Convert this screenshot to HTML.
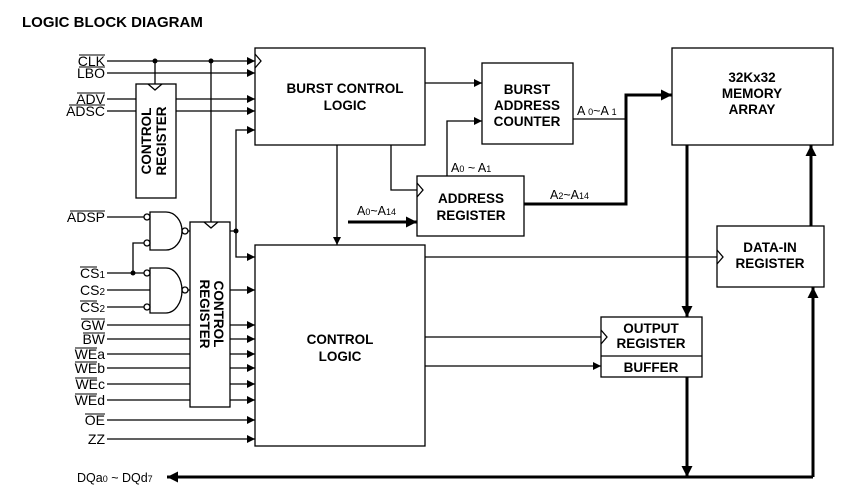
<!DOCTYPE html>
<html><head><meta charset="utf-8"><style>
html,body{margin:0;padding:0;background:#fff;}
svg{display:block;font-family:"Liberation Sans",Arial,sans-serif;}
.b{font-weight:bold;font-size:13.5px;text-anchor:middle;}
.l{font-size:14px;text-anchor:end;}
.s{font-size:12.5px;}
</style></head><body>
<svg width="846" height="491" viewBox="0 0 846 491" xmlns="http://www.w3.org/2000/svg">
<defs>
<marker id="a" viewBox="0 0 10 10" refX="10" refY="5" markerWidth="8" markerHeight="8" markerUnits="userSpaceOnUse" orient="auto"><path d="M0,0L10,5L0,10z" fill="#000"/></marker>
<marker id="A" viewBox="0 0 10 10" refX="10" refY="5" markerWidth="11" markerHeight="11" markerUnits="userSpaceOnUse" orient="auto"><path d="M0,0L10,5L0,10z" fill="#000"/></marker>
</defs>
<text x="22" y="27" font-size="15" font-weight="bold">LOGIC BLOCK DIAGRAM</text>
<g fill="none" stroke="#000" stroke-width="1.3">
<rect x="255" y="48" width="170" height="97"/>
<rect x="136" y="84" width="40" height="114"/>
<rect x="190" y="222" width="40" height="185"/>
<rect x="255" y="245" width="170" height="201"/>
<rect x="482" y="63" width="91" height="81"/>
<rect x="417" y="176" width="107" height="60"/>
<rect x="672" y="48" width="161" height="97"/>
<rect x="717" y="226" width="107" height="61"/>
<rect x="601" y="317" width="101" height="60"/>
<line x1="601" y1="356" x2="702" y2="356"/>
<path d="M255,54L261,61L255,68"/>
<path d="M148,84L155,90L162,84"/>
<path d="M204,222L211,228L218,222"/>
<path d="M417,183L423,190L417,197"/>
<path d="M717,250L723,257L717,264"/>
<path d="M601,330L607,337L601,344"/>
<line x1="107" y1="61" x2="255" y2="61" marker-end="url(#a)"/>
<line x1="107" y1="73" x2="255" y2="73" marker-end="url(#a)"/>
<line x1="155" y1="61" x2="155" y2="84"/>
<line x1="211" y1="61" x2="211" y2="222"/>
<line x1="107" y1="99" x2="136" y2="99"/>
<line x1="107" y1="111" x2="136" y2="111"/>
<line x1="176" y1="99" x2="255" y2="99" marker-end="url(#a)"/>
<line x1="176" y1="111" x2="255" y2="111" marker-end="url(#a)"/>
<path d="M236,231V130H255" marker-end="url(#a)"/>
<path d="M230,231H236V257H255" marker-end="url(#a)"/>
<path d="M150,212H166A16,19 0 0 1 166,250H150Z"/>
<path d="M150,268H166A16,22.5 0 0 1 166,313H150Z"/>
<circle cx="147" cy="217" r="3"/><circle cx="147" cy="243" r="3"/>
<circle cx="185" cy="231" r="3"/>
<circle cx="147" cy="273" r="3"/><circle cx="147" cy="307" r="3"/>
<circle cx="185" cy="290" r="3"/>
<line x1="107" y1="217" x2="144" y2="217"/>
<line x1="188" y1="231" x2="190" y2="231"/>
<path d="M133,273V243H144"/>
<line x1="107" y1="273" x2="144" y2="273"/>
<line x1="107" y1="290" x2="150" y2="290"/>
<line x1="107" y1="307" x2="144" y2="307"/>
<line x1="188" y1="290" x2="190" y2="290"/>
<line x1="230" y1="290" x2="255" y2="290" marker-end="url(#a)"/>
<line x1="107" y1="325" x2="190" y2="325"/><line x1="230" y1="325" x2="255" y2="325" marker-end="url(#a)"/>
<line x1="107" y1="339" x2="190" y2="339"/><line x1="230" y1="339" x2="255" y2="339" marker-end="url(#a)"/>
<line x1="107" y1="354" x2="190" y2="354"/><line x1="230" y1="354" x2="255" y2="354" marker-end="url(#a)"/>
<line x1="107" y1="368" x2="190" y2="368"/><line x1="230" y1="368" x2="255" y2="368" marker-end="url(#a)"/>
<line x1="107" y1="384" x2="190" y2="384"/><line x1="230" y1="384" x2="255" y2="384" marker-end="url(#a)"/>
<line x1="107" y1="400" x2="190" y2="400"/><line x1="230" y1="400" x2="255" y2="400" marker-end="url(#a)"/>
<line x1="107" y1="420" x2="255" y2="420" marker-end="url(#a)"/>
<line x1="107" y1="439" x2="255" y2="439" marker-end="url(#a)"/>
<line x1="425" y1="83" x2="482" y2="83" marker-end="url(#a)"/>
<path d="M447,176V121H482" marker-end="url(#a)"/>
<path d="M391,145V190H417"/>
<line x1="337" y1="145" x2="337" y2="245" marker-end="url(#a)"/>
<line x1="573" y1="119" x2="626" y2="119"/>
<line x1="425" y1="257" x2="717" y2="257"/>
<line x1="425" y1="337" x2="601" y2="337"/>
<line x1="425" y1="366" x2="601" y2="366" marker-end="url(#a)"/>
</g>
<g fill="none" stroke="#000" stroke-width="3">
<line x1="348" y1="222" x2="417" y2="222" marker-end="url(#A)"/>
<path d="M524,204H626V95H672" marker-end="url(#A)"/>
<line x1="687" y1="145" x2="687" y2="317" marker-end="url(#A)"/>
<line x1="687" y1="377" x2="687" y2="477" marker-end="url(#A)"/>
<line x1="811" y1="226" x2="811" y2="145" marker-end="url(#A)"/>
<path d="M813,477V287" marker-end="url(#A)"/>
<line x1="813" y1="477" x2="167" y2="477" marker-end="url(#A)"/>
</g>
<g fill="#000">
<circle cx="155" cy="61" r="2.5"/><circle cx="211" cy="61" r="2.5"/>
<circle cx="236" cy="231" r="2.5"/><circle cx="133" cy="273" r="2.5"/>
</g>
<g class="l">
<text x="105" y="66">CLK</text><text x="105" y="78">LBO</text>
<text x="105" y="104">ADV</text><text x="105" y="116">ADSC</text>
<text x="105" y="222">ADSP</text>
<text x="105" y="278">CS<tspan font-size="10">1</tspan></text>
<text x="105" y="295">CS<tspan font-size="10">2</tspan></text>
<text x="105" y="312">CS<tspan font-size="10">2</tspan></text>
<text x="105" y="330">GW</text><text x="105" y="344">BW</text>
<text x="105" y="359">WEa</text><text x="105" y="373">WEb</text>
<text x="105" y="389">WEc</text><text x="105" y="405">WEd</text>
<text x="105" y="425">OE</text><text x="105" y="444">ZZ</text>
</g>
<g stroke="#000" stroke-width="1">
<line x1="79" y1="55" x2="105" y2="55"/><line x1="79" y1="67" x2="105" y2="67"/>
<line x1="77" y1="93" x2="105" y2="93"/><line x1="69" y1="105" x2="105" y2="105"/>
<line x1="70" y1="211" x2="105" y2="211"/><line x1="80" y1="267" x2="97" y2="267"/>
<line x1="80" y1="301" x2="97" y2="301"/><line x1="81" y1="319" x2="105" y2="319"/>
<line x1="83" y1="333" x2="105" y2="333"/><line x1="75" y1="348" x2="97" y2="348"/>
<line x1="75" y1="362" x2="97" y2="362"/><line x1="75" y1="378" x2="97" y2="378"/>
<line x1="75" y1="394" x2="97" y2="394"/><line x1="85" y1="414" x2="105" y2="414"/>
</g>
<text class="b" transform="translate(151,141) rotate(-90)">CONTROL</text>
<text class="b" transform="translate(166,141) rotate(-90)">REGISTER</text>
<text class="b" transform="translate(200,314) rotate(90)">REGISTER</text>
<text class="b" transform="translate(214,314) rotate(90)">CONTROL</text>
<text class="b" x="345" y="93">BURST CONTROL</text>
<text class="b" x="345" y="110">LOGIC</text>
<text class="b" x="340" y="344">CONTROL</text>
<text class="b" x="340" y="361">LOGIC</text>
<text class="b" x="527" y="94">BURST</text>
<text class="b" x="527" y="110">ADDRESS</text>
<text class="b" x="527" y="126">COUNTER</text>
<text class="b" x="471" y="203">ADDRESS</text>
<text class="b" x="471" y="220">REGISTER</text>
<text class="b" x="752" y="82" font-size="11">32Kx32</text>
<text class="b" x="752" y="98" font-size="12">MEMORY</text>
<text class="b" x="752" y="114" font-size="12">ARRAY</text>
<text class="b" x="770" y="252">DATA-IN</text>
<text class="b" x="770" y="268">REGISTER</text>
<text class="b" x="651" y="333">OUTPUT</text>
<text class="b" x="651" y="348">REGISTER</text>
<text class="b" x="651" y="372">BUFFER</text>
<text class="s" x="577" y="115">A <tspan font-size="9">0</tspan>~A <tspan font-size="9">1</tspan></text>
<text class="s" x="451" y="172">A<tspan font-size="9">0</tspan> ~ A<tspan font-size="9">1</tspan></text>
<text class="s" x="357" y="215">A<tspan font-size="9">0</tspan>~A<tspan font-size="9">14</tspan></text>
<text class="s" x="550" y="199">A<tspan font-size="9">2</tspan>~A<tspan font-size="9">14</tspan></text>
<text class="s" x="77" y="482">DQa<tspan font-size="9">0</tspan> ~ DQd<tspan font-size="9">7</tspan></text>
</svg>
</body></html>
